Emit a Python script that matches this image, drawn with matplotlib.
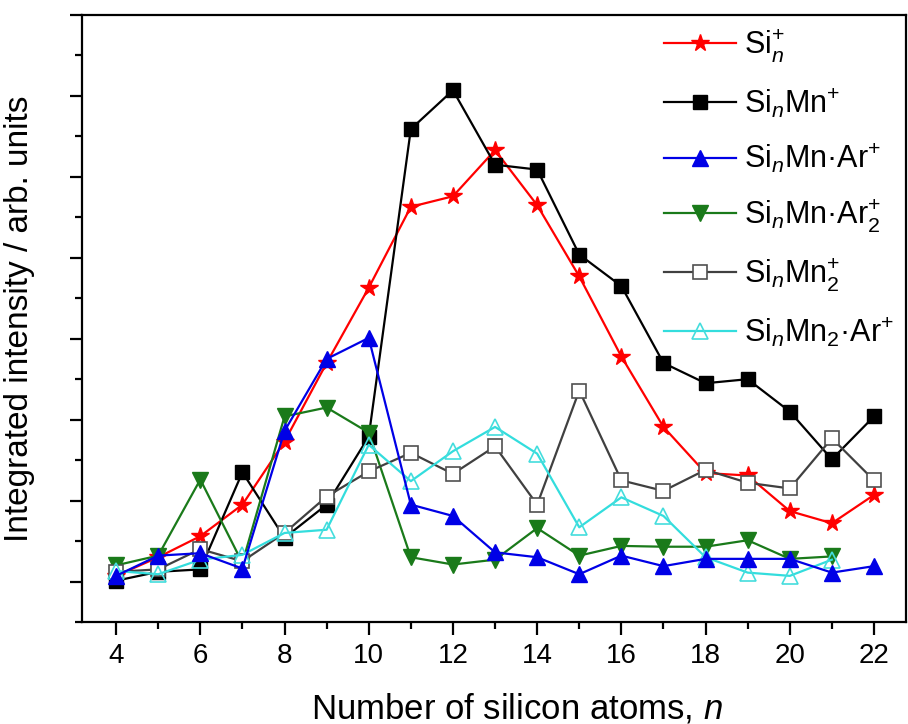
import matplotlib
matplotlib.use("Agg")
import matplotlib.pyplot as plt
from matplotlib.ticker import MultipleLocator, NullFormatter

# число атомов кремния
n_atoms = list(range(4, 23))

si_n = [0.07, 0.30, 0.56, 0.95, 1.73, 2.70, 3.63, 4.63, 4.76, 5.33,
        4.65, 3.77, 2.78, 1.91, 1.34, 1.31, 0.87, 0.72, 1.07]
si_n_mn = [0.01, 0.12, 0.15, 1.35, 0.54, 0.95, 1.79, 5.59, 6.07, 5.15,
           5.09, 4.04, 3.65, 2.70, 2.45, 2.50, 2.10, 1.51, 2.04]
si_n_mn_ar = [0.07, 0.32, 0.35, 0.16, 1.86, 2.75, 3.01, 0.95, 0.81, 0.36,
              0.30, 0.09, 0.32, 0.19, 0.28, 0.28, 0.28, 0.11, 0.19]
si_n_mn_ar2 = [0.20, 0.32, 1.26, 0.23, 2.04, 2.15, 1.84, 0.30, 0.21, 0.27,
               0.66, 0.32, 0.44, 0.43, 0.43, 0.51, 0.28, 0.31]
si_n_mn2 = [0.12, 0.15, 0.40, 0.25, 0.60, 1.05, 1.36, 1.59, 1.33, 1.67,
            0.95, 2.36, 1.25, 1.12, 1.38, 1.22, 1.15, 1.77, 1.25]
si_n_mn2_ar = [0.13, 0.09, 0.27, 0.33, 0.60, 0.64, 1.69, 1.24, 1.61, 1.91,
               1.58, 0.67, 1.04, 0.81, 0.30, 0.11, 0.07, 0.27]

labels = [r"Si$_{n}^{+}$", r"Si$_{n}$Mn$^{+}$", r"Si$_{n}$Mn·Ar$^{+}$",
          r"Si$_{n}$Mn·Ar$_{2}^{+}$", r"Si$_{n}$Mn$_{2}^{+}$",
          r"Si$_{n}$Mn$_{2}$·Ar$^{+}$"]

plt.rcParams.update({"font.family": "Liberation Sans",
                     "mathtext.fontset": "custom",
                     "mathtext.rm": "Liberation Sans",
                     "mathtext.it": "Liberation Sans:italic",
                     "mathtext.bf": "Liberation Sans:bold"})

fig = plt.figure(figsize=(9.08, 7.24), dpi=100)
ax = fig.add_axes([0.0903, 0.1409, 0.9075, 0.8384])

lw = 1.6
ax.plot(n_atoms, si_n, color="#ff0000", lw=lw, marker="*", ms=13,
        mec="#ff0000", mfc="#ff0000", label=labels[0])
ax.plot(n_atoms, si_n_mn, color="#000000", lw=lw, marker="s", ms=9.5,
        label=labels[1])
ax.plot(n_atoms, si_n_mn_ar, color="#0000e6", lw=lw, marker="^", ms=11,
        label=labels[2], zorder=4)
ax.plot(n_atoms[:-1], si_n_mn_ar2, color="#1a7a1a", lw=lw, marker="v", ms=11,
        label=labels[3])
ax.plot(n_atoms, si_n_mn2, color="#404040", lw=lw, marker="s", ms=9.5,
        mfc="white", mec="#505050", mew=1.2, label=labels[4])
ax.plot(n_atoms[:-1], si_n_mn2_ar, color="#33dddd", lw=lw, marker="^", ms=11,
        mfc="none", mec="#44dddd", mew=1.2, label=labels[5])

ax.set_xlim(3.19, 22.76)
ax.set_ylim(-0.5, 7.0)

ax.xaxis.set_major_locator(MultipleLocator(2))
ax.xaxis.set_minor_locator(MultipleLocator(1))
ax.yaxis.set_major_locator(MultipleLocator(1))
ax.yaxis.set_minor_locator(MultipleLocator(0.5))
ax.yaxis.set_major_formatter(NullFormatter())

for s in ax.spines.values():
    s.set_linewidth(1.6)
ax.tick_params(which="major", direction="out", length=9, width=1.6,
               labelsize=20, pad=6)
ax.tick_params(which="minor", direction="out", length=5, width=1.6)

ax.set_xlabel(r"Number of silicon atoms, $n$", fontsize=25)
ax.xaxis.set_label_coords(0.528, -0.115)
ax.set_ylabel("Integrated intensity / arb. units", fontsize=24)
ax.yaxis.set_label_coords(-0.057, 0.5)

ax.legend(loc="upper right", frameon=False, fontsize=22, handlelength=2.35,
          handletextpad=0.26, labelspacing=0.72, borderaxespad=0.1,
          borderpad=0.3)

fig.savefig("out.png", dpi=100)
